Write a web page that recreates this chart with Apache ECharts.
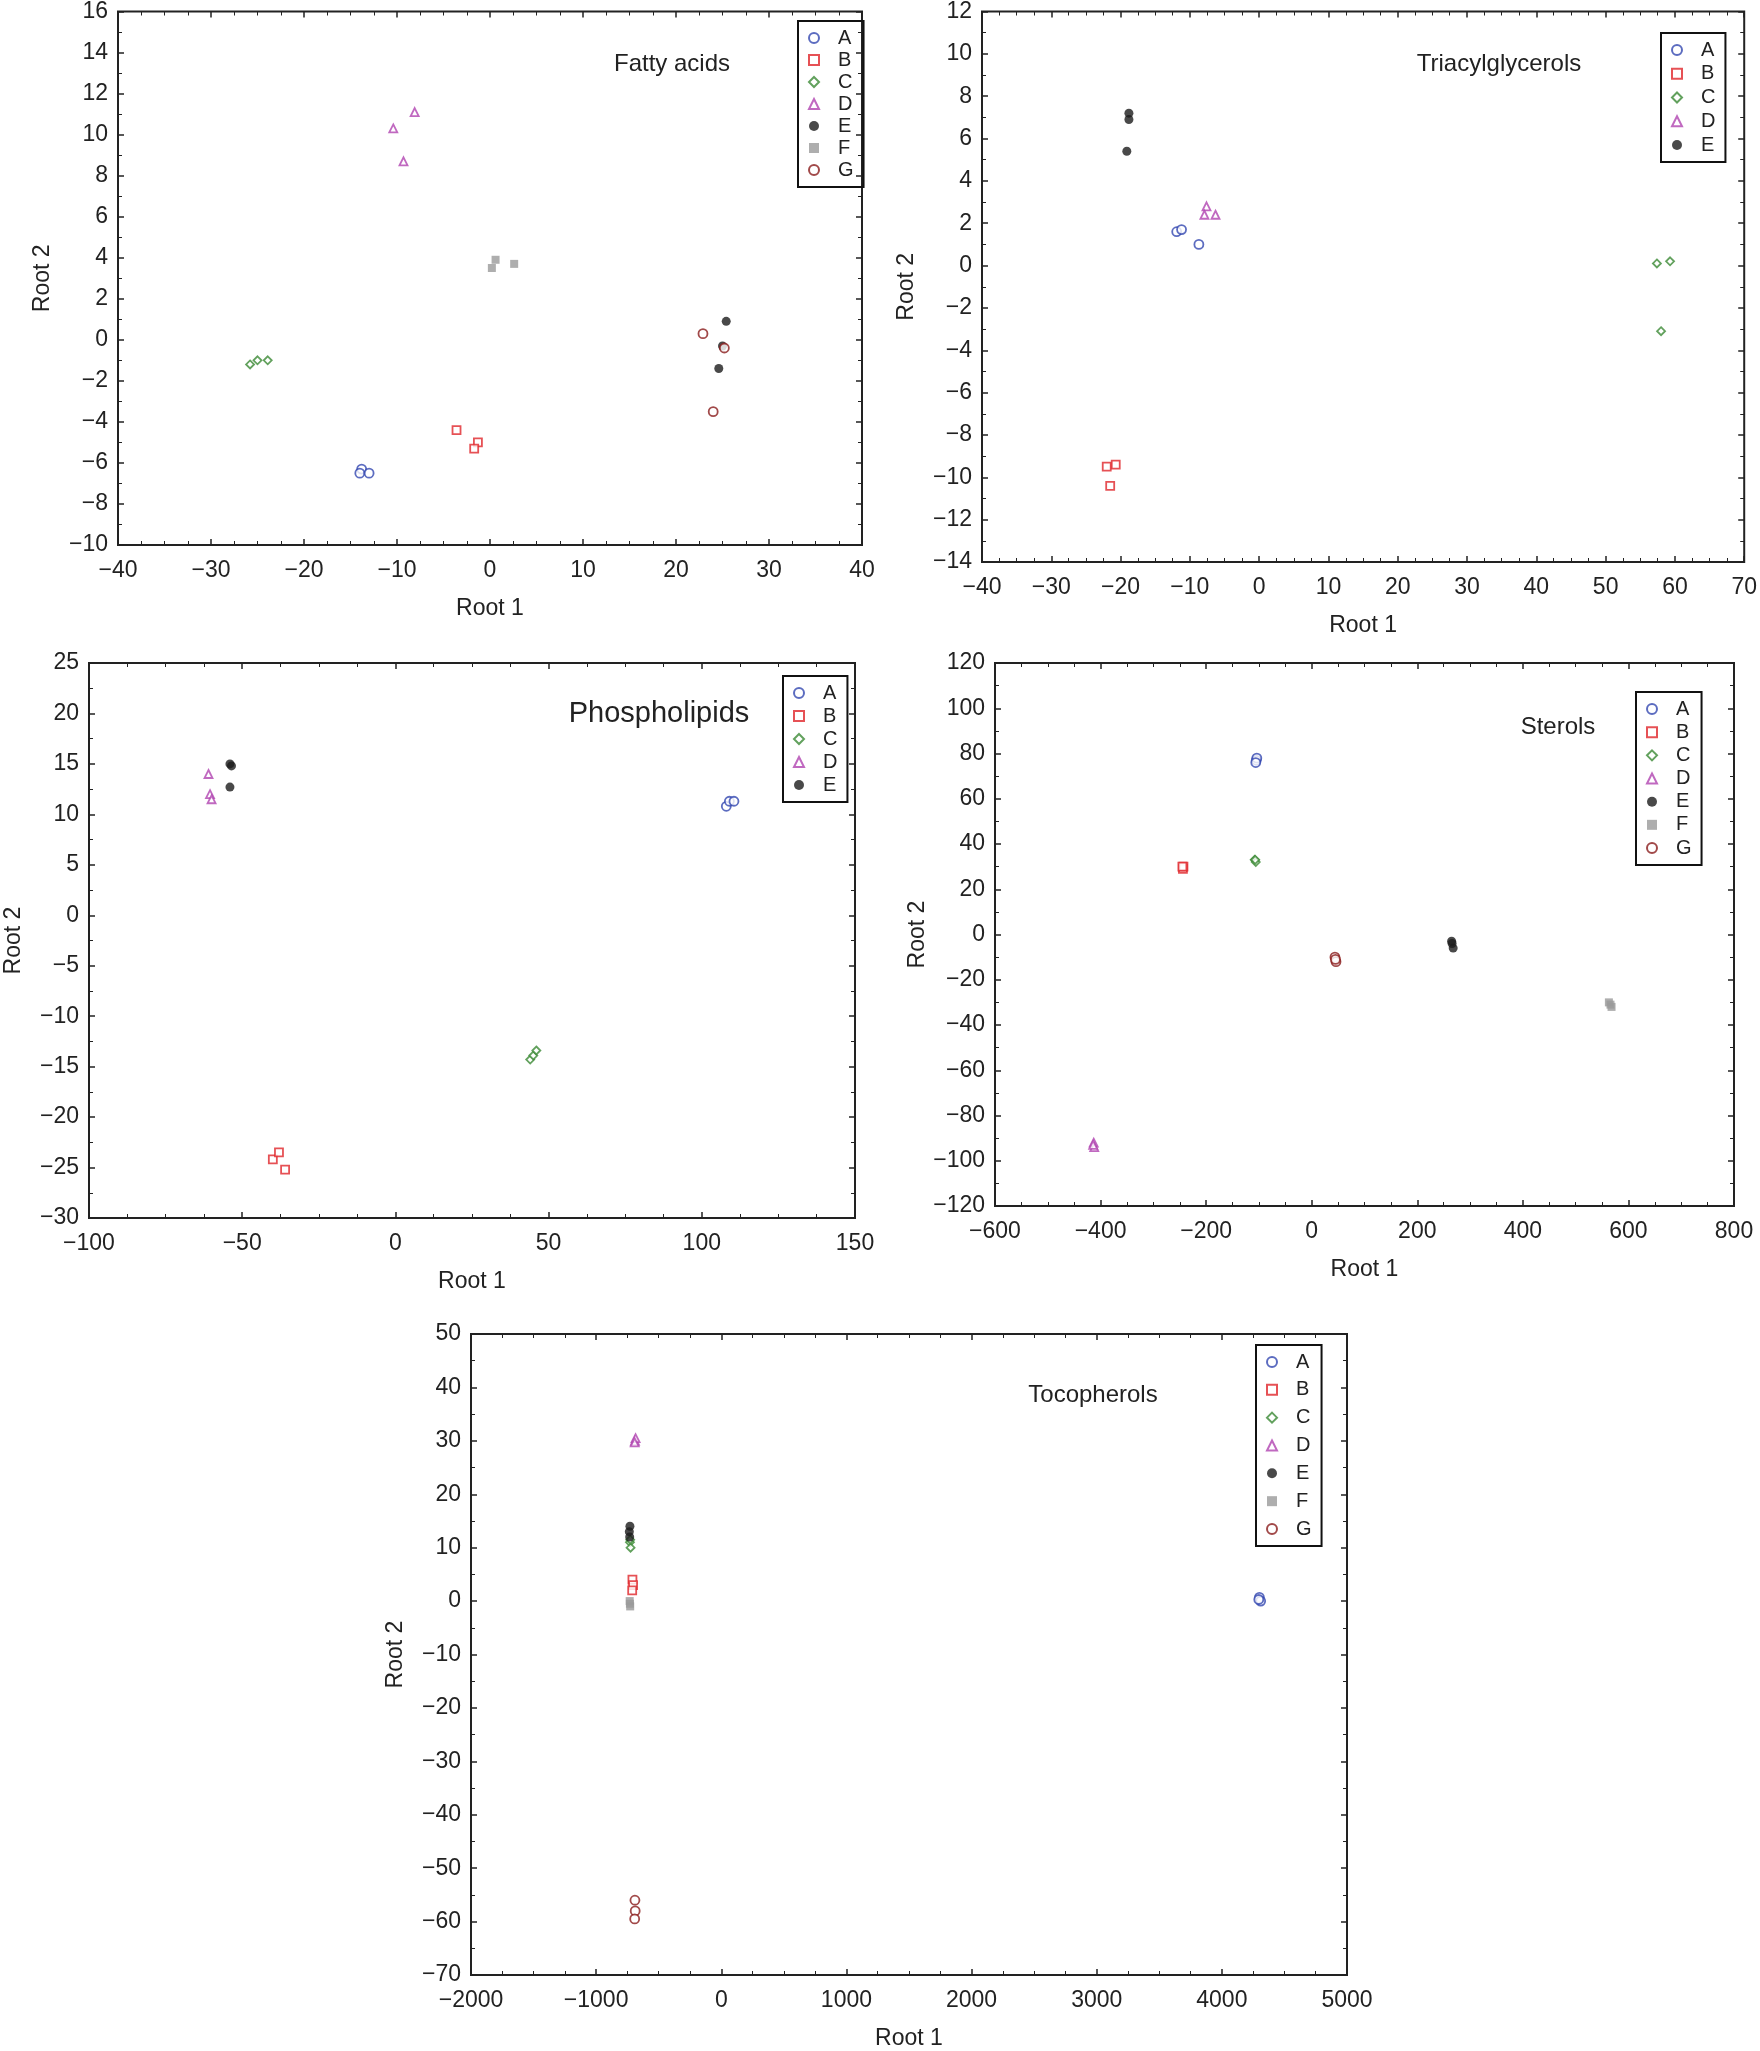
<!DOCTYPE html>
<html><head><meta charset="utf-8">
<script src="https://cdn.jsdelivr.net/npm/echarts@6/dist/echarts.min.js"></script>
<style>html,body{margin:0;background:#fff}#c{width:1760px;height:2051px}</style>
</head><body><div id="c"></div>
<script>
const groups = ['A','B','C','D','E','F','G'];
const colors = {A:'#3347b0',B:'#e0262b',C:'#3b8a35',D:'#b044b0',E:'#1c1c1c',F:'#9a9a9a',G:'#8a1c1c'};
const symbols = {A:'circle',B:'rect',C:'diamond',D:'triangle',E:'circle',F:'rect',G:'circle'};
const filled = {E:true,F:true};

const fattyAcids = {
  A:[[-13.8,-6.3],[-14,-6.5],[-13,-6.5]],
  B:[[-3.6,-4.4],[-1.3,-5.0],[-1.7,-5.3]],
  C:[[-25.8,-1.2],[-25,-1],[-23.9,-1]],
  D:[[-10.4,10.3],[-8.1,11.1],[-9.3,8.7]],
  E:[[25.4,0.9],[25,-0.3],[24.6,-1.4]],
  F:[[0.6,3.9],[0.2,3.5],[2.6,3.7]],
  G:[[22.9,0.3],[25.2,-0.4],[24,-3.5]]
};
const triacylglycerols = {
  A:[[-11.9,1.6],[-11.2,1.7],[-8.7,1.0]],
  B:[[-22,-9.5],[-20.7,-9.4],[-21.5,-10.4]],
  C:[[57.4,0.1],[59.3,0.2],[58,-3.1]],
  D:[[-7.6,2.8],[-7.9,2.4],[-6.3,2.4]],
  E:[[-18.8,7.2],[-18.8,6.9],[-19.1,5.4]]
};
const phospholipids = {
  A:[[108,10.8],[109,11.3],[110.5,11.3]],
  B:[[-40,-24.2],[-38,-23.5],[-36,-25.2]],
  C:[[44,-14.3],[45,-13.9],[46,-13.4]],
  D:[[-61,14],[-60.5,12],[-60,11.5]],
  E:[[-54,15],[-53.5,14.8],[-54,12.7]]
};
const sterols = {
  A:[[-105,77],[-104,78],[-106,76]],
  B:[[-244,29],[-243,30],[-245,30]],
  C:[[-108,33],[-106,32],[-107,33]],
  D:[[-413,-92],[-412,-94],[-414,-93]],
  E:[[266,-4],[268,-6],[265,-3]],
  F:[[563,-30],[568,-32],[566,-31]],
  G:[[44,-10],[46,-12],[45,-11]]
};
const tocopherols = {
  A:[[4300,0.7],[4310,0],[4295,0.3]],
  B:[[-710,4],[-705,3],[-712,2]],
  C:[[-730,11],[-725,10],[-728,11.5]],
  D:[[-690,30],[-685,30.5],[-692,29.7]],
  E:[[-730,14],[-735,13],[-732,12]],
  F:[[-730,-0.5],[-728,-1],[-732,0]],
  G:[[-690,-56],[-688,-58],[-692,-59.5]]
};

const panels = [
  {title:'Fatty acids',data:fattyAcids,x:[-40,40,10],y:[-10,16,2],grid:[118,9,862,545],tp:[667,59,24],lg:[798,21,187]},
  {title:'Triacylglycerols',data:triacylglycerols,x:[-40,70,10],y:[-14,12,2],grid:[982,9,1746,562],tp:[1494,59,24],lg:[1661,33,162]},
  {title:'Phospholipids',data:phospholipids,x:[-100,150,50],y:[-30,25,5],grid:[89,663,855,1218],tp:[654,709,29],lg:[783,676,802]},
  {title:'Sterols',data:sterols,x:[-600,800,200],y:[-120,120,20],grid:[995,663,1734,1206],tp:[1553,722,24],lg:[1636,692,865]},
  {title:'Tocopherols',data:tocopherols,x:[-2000,5000,1000],y:[-70,50,10],grid:[471,1334,1347,1975],tp:[1088,1390,24],lg:[1256,1345,1546]}
];

const font = '"Liberation Sans", Arial, sans-serif';
const opt = {animation:false,backgroundColor:'#fff',grid:[],xAxis:[],yAxis:[],series:[],legend:[],title:[]};
const lab = {color:'#222',fontSize:23,fontFamily:font};
panels.forEach((p,i)=>{
  const [l,t,r,b] = p.grid;
  opt.grid.push({left:l,top:t,width:r-l,height:b-t,show:true,borderColor:'#222',borderWidth:2,backgroundColor:'transparent'});
  const ax = (rng,name,isY,pos,showLab)=>({type:'value',gridIndex:i,min:rng[0],max:rng[1],interval:rng[2],position:pos,
    name:showLab?name:'',nameLocation:'middle',nameGap:isY?64:52,nameRotate:isY?90:0,
    nameTextStyle:{color:'#222',fontSize:23,fontFamily:font},
    axisLine:{show:false,onZero:false},axisTick:{show:true,inside:true,length:6,lineStyle:{color:'#222',width:1.5}},
    minorTick:{show:true,splitNumber:isY?2:4,length:4,lineStyle:{color:'#222'}},
    splitLine:{show:false},axisLabel:Object.assign({show:showLab,margin:isY?10:14,formatter:v=>String(v).replace('-','\u2212')},lab)});
  opt.xAxis.push(ax(p.x,'Root 1',false,'bottom',true));
  opt.xAxis.push(ax(p.x,'Root 1',false,'top',false));
  opt.yAxis.push(ax(p.y,'Root 2',true,'left',true));
  opt.yAxis.push(ax(p.y,'Root 2',true,'right',false));
  const names = groups.filter(g=>p.data[g]);
  names.forEach(g=>{
    opt.series.push({type:'scatter',name:g,xAxisIndex:2*i,yAxisIndex:2*i,data:p.data[g],
      symbol:symbols[g],symbolSize:symbols[g]==='circle'?9:8,
      itemStyle:{color:filled[g]?colors[g]:'#fff',borderColor:colors[g],borderWidth:filled[g]?0:1.8}});
  });
  const lh = p.lg[2]-p.lg[1];
  const rowH = 20;
  opt.legend.push({orient:'vertical',left:p.lg[0],top:p.lg[1],data:names,
    itemWidth:10,itemHeight:10,itemGap:Math.max(0,(lh-14-names.length*rowH)/(names.length-1)),padding:[7,10,7,10],
    borderColor:'#111',borderWidth:2,selectedMode:false,
    textStyle:{color:'#222',fontSize:20,fontFamily:font,lineHeight:rowH,padding:[0,0,0,14]}});
  opt.title.push({text:p.title,left:p.tp[0],top:p.tp[1],textAlign:'center',textVerticalAlign:'middle',
    textStyle:{color:'#222',fontSize:p.tp[2],fontWeight:'normal',fontFamily:font}});
});
echarts.init(document.getElementById('c')).setOption(opt);
</script></body></html>
